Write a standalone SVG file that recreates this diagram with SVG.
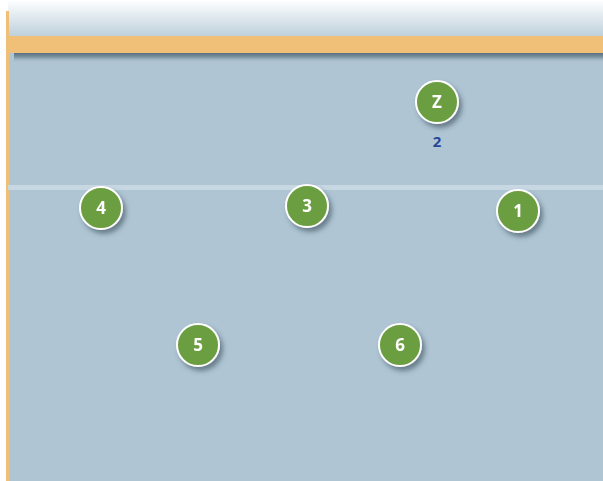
<svg xmlns="http://www.w3.org/2000/svg" width="603" height="481" viewBox="0 0 603 481">
<defs>
<linearGradient id="sky" x1="0" y1="0" x2="0" y2="1">
<stop offset="0" stop-color="#ffffff"/>
<stop offset="1" stop-color="#bccfdb"/>
</linearGradient>
<linearGradient id="barShadow" x1="0" y1="0" x2="0" y2="1">
<stop offset="0" stop-color="#586f80"/>
<stop offset="0.4" stop-color="#7d94a3"/>
<stop offset="1" stop-color="#afc5d3" stop-opacity="0"/>
</linearGradient>
<filter id="sh" x="-50%" y="-50%" width="200%" height="200%">
<feGaussianBlur in="SourceAlpha" stdDeviation="2.5"/>
<feOffset dx="3" dy="4" result="b"/>
<feFlood flood-color="#2f4350" flood-opacity="0.55"/>
<feComposite in2="b" operator="in"/>
<feMerge><feMergeNode/><feMergeNode in="SourceGraphic"/></feMerge>
</filter>
</defs>
<style>
.node circle{fill:#6b9e3f;stroke:#ffffff;stroke-width:2}
.node text{font-family:"Open Sans","DejaVu Sans",sans-serif;font-weight:bold;font-size:17px;fill:#ffffff;text-anchor:middle}
.lbl{font-family:"Open Sans","DejaVu Sans",sans-serif;font-weight:bold;font-size:15px;fill:#2a4597;text-anchor:middle}
</style>
<rect x="0" y="0" width="603" height="481" fill="#ffffff"/>
<rect x="8" y="0" width="595" height="37" fill="url(#sky)"/>
<rect x="8" y="53" width="595" height="428" fill="#afc5d3"/>
<rect x="14" y="53" width="589" height="10" fill="url(#barShadow)"/>
<rect x="8" y="36" width="595" height="17" fill="#f0bf78"/>
<rect x="6" y="11" width="3" height="470" fill="#f0bf78"/>
<rect x="8" y="185" width="595" height="5" fill="#c8d8e3"/>
<g id="connectors"></g>
<g id="node-Z" class="node" filter="url(#sh)"><circle cx="437" cy="102" r="21"/><text x="437" y="108">Z</text></g>
<text class="lbl" x="437" y="147">2</text>
<g id="node-4" class="node" filter="url(#sh)"><circle cx="101" cy="208" r="21"/><text x="101" y="214">4</text></g>
<g id="node-3" class="node" filter="url(#sh)"><circle cx="307" cy="206" r="21"/><text x="307" y="212">3</text></g>
<g id="node-1" class="node" filter="url(#sh)"><circle cx="518" cy="211" r="21"/><text x="518" y="217">1</text></g>
<g id="node-5" class="node" filter="url(#sh)"><circle cx="198" cy="345" r="21"/><text x="198" y="351">5</text></g>
<g id="node-6" class="node" filter="url(#sh)"><circle cx="400" cy="345" r="21"/><text x="400" y="351">6</text></g>
</svg>
